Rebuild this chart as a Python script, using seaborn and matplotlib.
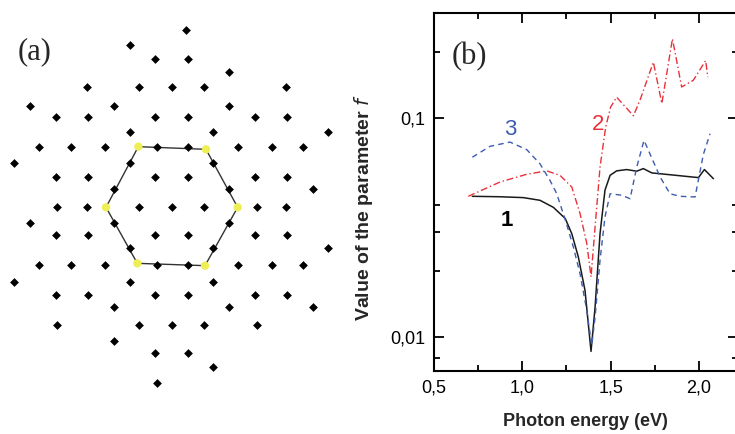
import numpy as np
import pandas as pd
import matplotlib
matplotlib.use("Agg")
import matplotlib.pyplot as plt
import seaborn as sns
from matplotlib.ticker import FixedLocator, FixedFormatter, NullFormatter

# ---- (a) lattice points (picture units, y downwards) ----
row_y = [90, 135, 178, 215, 262, 318, 352, 395, 440, 490, 530, 568, 620,
         668, 705, 745, 795, 845, 885, 920, 975, 1022, 1058, 1100, 1150]
row_x = [
    [558],
    [390],
    [465, 563],
    [686],
    [260, 417, 517, 613, 857],
    [90, 342, 686],
    [168, 265, 465, 563, 765, 862],
    [390, 640, 985],
    [118, 213, 315, 470, 563, 713, 815, 910],
    [42, 390, 640],
    [168, 265, 465, 563, 765, 862],
    [342, 686, 938],
    [172, 260, 417, 517, 613, 770, 857],
    [90, 342, 686],
    [168, 265, 465, 563, 765, 862],
    [390, 640, 985],
    [118, 213, 315, 470, 563, 713, 815, 910],
    [42, 390, 640],
    [168, 265, 465, 563, 765, 862],
    [342, 686, 938],
    [172, 417, 517, 613, 770],
    [342],
    [465, 563],
    [640],
    [470],
]
# hexagon vertices (yellow points)
hex_x = [415, 618, 713, 615, 412, 318]
hex_y = [440, 448, 622, 797, 790, 622]

# ---- (b) parameter f vs photon energy ----
e1 = [0.717, 0.874, 1.006, 1.1, 1.176, 1.243, 1.28, 1.317, 1.355, 1.389, 1.412,
      1.44, 1.468, 1.497, 1.534, 1.591, 1.648, 1.685, 1.733, 1.997, 2.031, 2.082]
f1 = [0.0438, 0.0436, 0.0432, 0.042, 0.039, 0.0347, 0.0296, 0.0232, 0.0163, 0.0086, 0.0137,
      0.0296, 0.0467, 0.0546, 0.0572, 0.058, 0.057, 0.0586, 0.056, 0.0533, 0.058, 0.0527]

e2 = [0.694, 0.874, 1.025, 1.138, 1.213, 1.28, 1.327, 1.365, 1.389, 1.412,
      1.44, 1.472, 1.5, 1.534, 1.629, 1.666, 1.742, 1.79, 1.85, 1.902, 1.968, 2.038, 2.05]
f2 = [0.0438, 0.0509, 0.0552, 0.0572, 0.0546, 0.0483, 0.0365, 0.0267, 0.0188, 0.0317,
      0.0596, 0.0906, 0.1117, 0.124, 0.102, 0.12, 0.179, 0.116, 0.229, 0.138, 0.148, 0.182, 0.153]

e3 = [0.717, 0.817, 0.93, 1.025, 1.1, 1.157, 1.195, 1.25, 1.289, 1.327, 1.365,
      1.393, 1.412, 1.44, 1.468, 1.497, 1.563, 1.61, 1.648, 1.689, 1.78, 1.836,
      1.893, 1.978, 2.025, 2.063]
f3 = [0.066, 0.074, 0.0774, 0.0715, 0.0616, 0.0517, 0.045, 0.0329, 0.0257, 0.0194, 0.0132,
      0.00916, 0.0123, 0.0224, 0.0352, 0.045, 0.0443, 0.0427, 0.0596, 0.0788, 0.0537, 0.045,
      0.0438, 0.0435, 0.068, 0.0845]

xticks = [0.5, 1.0, 1.5, 2.0]
xtick_labels = ["0,5", "1,0", "1,5", "2,0"]
yticks = [0.01, 0.1]
ytick_labels = ["0,01", "0,1"]

sns.set_style("ticks")
plt.rcParams['font.family'] = ['Liberation Sans', 'DejaVu Sans']

fig = plt.figure(figsize=(7.35, 4.34), dpi=100)

# ---------- panel (a) ----------
axa = fig.add_axes([0, 0, 370 / 735, 1])
pts = pd.DataFrame({
    "x": [x for xs in row_x for x in xs],
    "y": [y for y, xs in zip(row_y, row_x) for _ in xs],
})
axa.plot(hex_x + hex_x[:1], hex_y + hex_y[:1], color="#333333", lw=1.0, zorder=1)
sns.scatterplot(data=pts, x="x", y="y", marker="D", s=20, color="black",
                edgecolor="black", linewidth=0, ax=axa, zorder=3)
sns.scatterplot(x=hex_x, y=hex_y, marker="o", s=36, color="#eeee55",
                edgecolor="none", ax=axa, zorder=2)
axa.set_xlim(0, 1110)
axa.set_ylim(1302, 0)
axa.axis("off")
axa.text(105, 155, "(a)", family="Liberation Serif", fontsize=22,
         ha="center", va="center")

# ---------- panel (b) ----------
axb = fig.add_axes([434 / 735, 1 - 371 / 434, (737.8 - 434) / 735, (371 - 13) / 434])
sns.lineplot(x=e1, y=f1, color="#1a1a1a", lw=1.1, ax=axb)
sns.lineplot(x=e2, y=f2, color="#e8313a", lw=1.0, linestyle=(0, (5, 2, 1, 2)), ax=axb)
sns.lineplot(x=e3, y=f3, color="#3d5cb0", lw=1.0, linestyle=(0, (4, 3)), ax=axb)
axb.set_yscale("log")
axb.set_xlim(0.5, 2.22)
axb.set_ylim(0.007, 0.3)

axb.xaxis.set_major_locator(FixedLocator(xticks))
axb.xaxis.set_major_formatter(FixedFormatter(xtick_labels))
axb.xaxis.set_minor_locator(FixedLocator([0.75, 1.25, 1.75]))
axb.yaxis.set_major_locator(FixedLocator(yticks))
axb.yaxis.set_major_formatter(FixedFormatter(ytick_labels))
axb.yaxis.set_minor_locator(FixedLocator([0.008, 0.02, 0.03, 0.04, 0.2]))
axb.yaxis.set_minor_formatter(NullFormatter())

axb.tick_params(which="both", direction="in", top=True, right=True, width=1.3,
                labelsize=13, colors="black")
axb.tick_params(which="major", length=7, pad=6)
axb.tick_params(which="minor", length=4)
for sp in axb.spines.values():
    sp.set_linewidth(1.5)
    sp.set_color("black")

axb.set_xlabel("Photon energy (eV)", fontsize=13, fontweight="bold", labelpad=12)
axb.set_ylabel("Value of the parameter $\\mathit{f}$", fontsize=14, fontweight="bold")
axb.yaxis.set_label_coords(-0.194, 0.458)

axb.text(0.70, 0.19, "(b)", family="Liberation Serif", fontsize=22,
         ha="center", va="center")
axb.text(0.93, 0.088, "3", color="#3d5cb0", fontsize=16, ha="center", va="center")
axb.text(1.43, 0.093, "2", color="#e8313a", fontsize=16, ha="center", va="center")
axb.text(0.91, 0.034, "1", color="black", fontsize=16, fontweight="bold",
         ha="center", va="center")

fig.savefig("out.png", dpi=100)
